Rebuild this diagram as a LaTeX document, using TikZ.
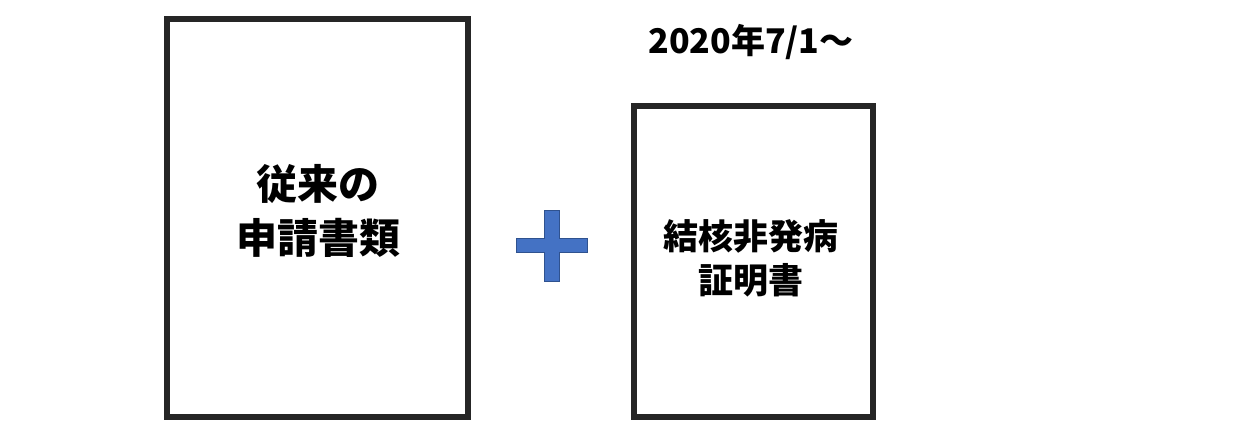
\documentclass[tikz,border=0pt]{standalone}
\usepackage{fontspec}
\newfontfamily\jp{Noto Sans CJK JP}
\definecolor{plusfill}{HTML}{4472C4}
\definecolor{plusline}{HTML}{2F528F}
\definecolor{boxline}{HTML}{262626}
\begin{document}
\begin{tikzpicture}[x=1pt,y=-1pt,
  docbox/.style={draw=boxline,line width=6pt,fill=white},
  bigtext/.style={font=\jp\bfseries\fontsize{41}{54}\selectfont,align=center,inner sep=0pt},
  midtext/.style={font=\jp\bfseries\fontsize{35}{44}\selectfont,align=center,inner sep=0pt},
  datetext/.style={font=\jp\bfseries\fontsize{34}{36}\selectfont,inner sep=0pt}]
\useasboundingbox (0,0) rectangle (1251,432);
\draw[docbox] (167,19) rectangle (468,417);
\node (old) at (318,211) [bigtext] {従来の\\申請書類};
\draw[docbox] (634,106) rectangle (873,417);
\node (new) at (751,258) [midtext] {結核非発病\\証明書};
\node (date) at (751,42) [datetext] {2020年7/1～};
\draw[fill=plusfill,draw=plusline,line width=0.8pt]
  (544,210) -- (559,210) -- (559,238) -- (587,238) -- (587,252) -- (559,252)
  -- (559,281) -- (544,281) -- (544,252) -- (516,252) -- (516,238) -- (544,238) -- cycle;
\end{tikzpicture}
\end{document}
